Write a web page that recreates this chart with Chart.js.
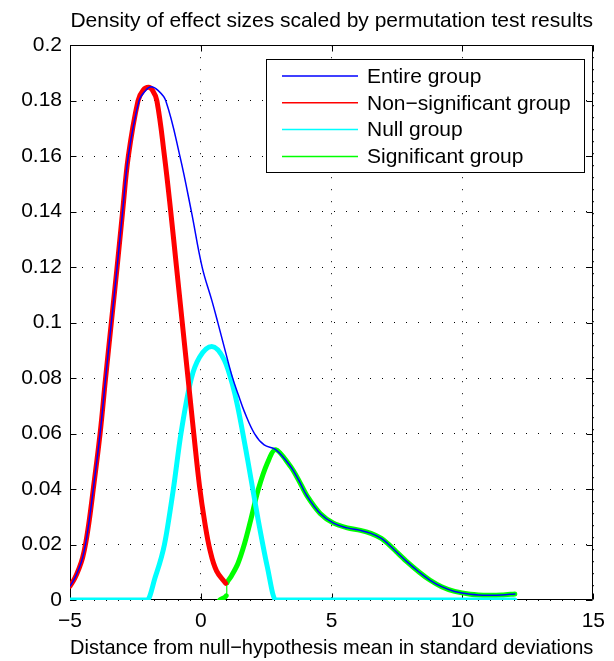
<!DOCTYPE html>
<html>
<head>
<meta charset="utf-8">
<script src="https://cdn.jsdelivr.net/npm/chart.js@4/dist/chart.umd.min.js"></script>
<style>
  html, body { margin: 0; padding: 0; background: #fff; }
  #wrap { width: 614px; height: 661px; }
</style>
</head>
<body>
<div id="wrap"><canvas id="grafico" width="614" height="661"></canvas></div>
<script>
// Eixos
const xTicks = [-5, 0, 5, 10, 15];
const xTickLabels = ["−5", "0", "5", "10", "15"];
const yTicks = [0, 0.02, 0.04, 0.06, 0.08, 0.1, 0.12, 0.14, 0.16, 0.18, 0.2];
const yTickLabels = ["0", "0.02", "0.04", "0.06", "0.08", "0.1", "0.12", "0.14", "0.16", "0.18", "0.2"];

const seriesNames = ["Entire group", "Non−significant group", "Null group", "Significant group"];

// Entire group
const entireX = [-5, -4.82, -4.65, -4.52, -4.40, -4.26, -4.11, -3.85, -3.64, -3.42, -3.20, -2.99, -2.77, -2.36, -2.1, -1.9, -1.65, -1.34,
                 -0.80, -0.36, 0.05, 0.42, 0.65, 0.9, 1.19, 1.45, 1.66, 2.05, 2.42, 2.86, 3.43, 3.75, 4.06, 4.56, 5.07, 5.6, 6.1,
                 6.5, 6.9, 7.15, 7.46, 7.84, 8.35, 8.75, 9.2, 9.7, 10.3, 11.0, 11.5, 12.0];
const entireY = [0.005, 0.0078, 0.0115, 0.0152, 0.0205, 0.029, 0.04, 0.06, 0.08, 0.10, 0.12, 0.14, 0.16, 0.18, 0.1838, 0.185, 0.1838, 0.18,
                 0.16, 0.14, 0.12, 0.108, 0.10, 0.091, 0.0808, 0.0735, 0.068, 0.06, 0.0559, 0.0542, 0.0481, 0.043, 0.0375, 0.0312, 0.0277, 0.026, 0.0251,
                 0.024, 0.0222, 0.0203, 0.0175, 0.0141, 0.01, 0.0072, 0.0048, 0.0031, 0.0021, 0.0017, 0.0018, 0.0022];

// Non-significant group
const nonSigX = [-5, -4.82, -4.65, -4.52, -4.40, -4.26, -4.11, -3.85, -3.64, -3.42, -3.20, -2.99, -2.77, -2.40, -2.2, -2.0, -1.85, -1.68,
                 -1.39, -1.15, -0.93, -0.71, -0.49, -0.27, -0.05, 0.15, 0.35, 0.6, 0.95];
const nonSigY = [0.005, 0.0078, 0.0115, 0.0152, 0.0205, 0.029, 0.04, 0.06, 0.08, 0.10, 0.12, 0.14, 0.16, 0.18, 0.1838, 0.1848, 0.1838, 0.18,
                 0.16, 0.14, 0.12, 0.10, 0.08, 0.06, 0.041, 0.028, 0.018, 0.0105, 0.006];

// Null group
const nullX = [-5, -2.05, -1.75, -1.39, -1.05, -0.76, -0.36, -0.05, 0.42, 0.9, 1.2, 1.41, 1.79, 2.17, 2.54, 2.86, 12];
const nullY = [0, 0, 0.008, 0.02, 0.04, 0.06, 0.08, 0.0875, 0.0914, 0.0865, 0.078, 0.0697, 0.0505, 0.03, 0.012, 0, 0];

// Significant group
const sigX = [0.72, 0.97, 1.0, 1.15, 1.41, 1.66, 1.91, 2.2, 2.54, 2.86, 3.43, 3.75, 4.06, 4.56, 5.07, 5.6, 6.1,
              6.5, 6.9, 7.15, 7.46, 7.84, 8.35, 8.75, 9.2, 9.7, 10.3, 11.0, 11.5, 12.0];
const sigY = [0, 0.0015, 0.0062, 0.0084, 0.013, 0.02, 0.029, 0.04, 0.0493, 0.0542, 0.0481, 0.043, 0.0375, 0.0312, 0.0277, 0.026, 0.0251,
              0.024, 0.0222, 0.0203, 0.0175, 0.0141, 0.01, 0.0072, 0.0048, 0.0031, 0.0021, 0.0017, 0.0018, 0.0022];

const pts = (xs, ys) => xs.map((x, i) => ({ x: x, y: ys[i] }));

const FONT = { family: "'Liberation Sans', Arial, Helvetica, sans-serif", size: 21, lineHeight: 1.2 };

// moldura com ticks para dentro (estilo matlab)
const moldura = {
    id: "moldura",
    beforeDatasetsDraw(chart) {
        const { ctx, chartArea: a, scales } = chart;
        const l = Math.round(a.left) + 0.5, r = Math.round(a.right) - 0.5;
        const t = Math.round(a.top) + 0.5, b = Math.round(a.bottom) - 0.5;
        const tl = 6;
        ctx.save();
        ctx.strokeStyle = "#000";
        ctx.lineWidth = 1;
        ctx.beginPath();
        ctx.rect(l, t, r - l, b - t);
        xTicks.forEach(v => {
            const px = Math.round(scales.x.getPixelForValue(v)) + 0.5;
            ctx.moveTo(px, b); ctx.lineTo(px, b - tl);
            ctx.moveTo(px, t); ctx.lineTo(px, t + tl);
        });
        yTicks.forEach(v => {
            const py = Math.round(scales.y.getPixelForValue(v)) + 0.5;
            ctx.moveTo(l, py); ctx.lineTo(l + tl, py);
            ctx.moveTo(r, py); ctx.lineTo(r - tl, py);
        });
        ctx.stroke();
        ctx.restore();
    }
};

// legenda dentro do gráfico
const legenda = {
    id: "legenda",
    afterDatasetsDraw(chart) {
        const { ctx } = chart;
        const bx = 266.5, by = 59.5, bw = 318, bh = 113;
        ctx.save();
        ctx.fillStyle = "#fff";
        ctx.fillRect(bx, by, bw, bh);
        ctx.strokeStyle = "#000";
        ctx.lineWidth = 1;
        ctx.strokeRect(bx, by, bw, bh);
        ctx.font = FONT.size + "px " + FONT.family;
        ctx.textBaseline = "middle";
        ctx.textAlign = "left";
        chart.data.datasets.forEach((ds, i) => {
            const cy = 76 + i * 26.8;
            ctx.strokeStyle = ds.borderColor;
            ctx.lineWidth = 1.5;
            ctx.beginPath();
            ctx.moveTo(282, cy);
            ctx.lineTo(358, cy);
            ctx.stroke();
            ctx.fillStyle = "#000";
            ctx.fillText(ds.label, 367, cy + 1);
        });
        ctx.restore();
    }
};

const linha = (label, data, color, width, suave) => ({
    label: label,
    data: data,
    borderColor: color,
    backgroundColor: color,
    borderWidth: width,
    pointRadius: 0,
    fill: false,
    tension: suave ? 0.4 : 0,
    cubicInterpolationMode: suave ? "default" : "monotone",
    borderCapStyle: "round",
    borderJoinStyle: "round"
});

const sig = linha(seriesNames[3], pts(sigX, sigY), "#00ff00", 5, true);
sig.tension = 0.3;
// degrau quase vertical no início do grupo significativo fica fino
sig.segment = { borderWidth: c => (Math.abs(c.p1.x - c.p0.x) < 2 ? 1.2 : 5) };

new Chart(document.getElementById("grafico"), {
    type: "line",
    data: {
        datasets: [
            linha(seriesNames[0], pts(entireX, entireY), "#0000ff", 1.5, true),
            linha(seriesNames[1], pts(nonSigX, nonSigY), "#ff0000", 5, true),
            linha(seriesNames[2], pts(nullX, nullY), "#00ffff", 5, false),
            sig
        ]
    },
    options: {
        responsive: false,
        animation: false,
        devicePixelRatio: 1,
        layout: { padding: { top: 0, right: 15, bottom: 0, left: 0 } },
        plugins: {
            legend: { display: false },
            tooltip: { enabled: false },
            title: {
                display: true,
                text: "Density of effect sizes scaled by permutation test results",
                color: "#000",
                font: { ...FONT, weight: "normal" },
                padding: { top: 9, bottom: 11 },
                fullSize: false
            }
        },
        scales: {
            x: {
                type: "linear",
                min: -5,
                max: 15,
                afterBuildTicks: s => { s.ticks = xTicks.map(v => ({ value: v })); },
                afterFit: s => { s.height = 61; },
                ticks: {
                    color: "#000",
                    font: FONT,
                    padding: 9,
                    maxRotation: 0,
                    autoSkip: false,
                    callback: (v, i) => xTickLabels[i]
                },
                grid: { color: "#000", lineWidth: 1, drawTicks: false },
                border: { display: false, dash: [1, 11] },
                title: {
                    display: true,
                    text: "Distance from null−hypothesis mean in standard deviations",
                    color: "#000",
                    font: FONT,
                    padding: { top: 0, bottom: 0 }
                }
            },
            y: {
                type: "linear",
                min: 0,
                max: 0.2,
                afterBuildTicks: s => { s.ticks = yTicks.map(v => ({ value: v })); },
                afterFit: s => { s.width = 70; },
                ticks: {
                    color: "#000",
                    font: FONT,
                    padding: 8,
                    autoSkip: false,
                    callback: (v, i) => yTickLabels[i]
                },
                grid: { color: "#000", lineWidth: 1, drawTicks: false },
                border: { display: false, dash: [1, 11] }
            }
        }
    },
    plugins: [moldura, legenda]
});
</script>
</body>
</html>
